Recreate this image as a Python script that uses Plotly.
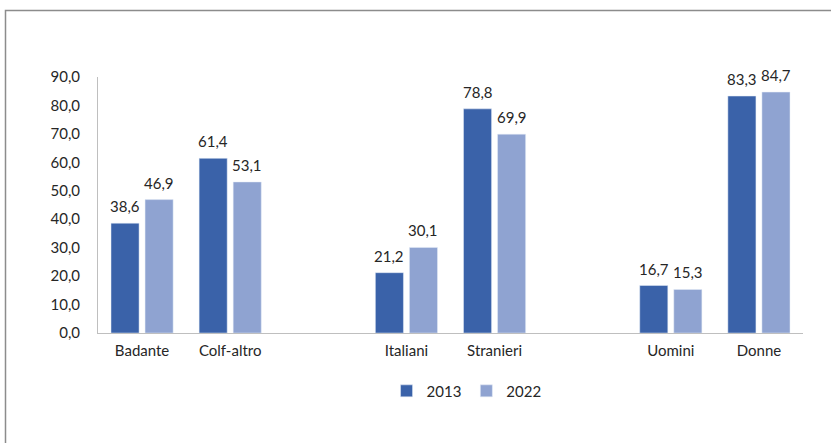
import plotly.graph_objects as go

categories = ["Badante", "Colf-altro", " ", "Italiani", "Stranieri", "  ", "Uomini", "Donne"]
values_2013 = [38.6, 61.4, None, 21.2, 78.8, None, 16.7, 83.3]
values_2022 = [46.9, 53.1, None, 30.1, 69.9, None, 15.3, 84.7]
series_names = ["2013", "2022"]
colors = ["#3A62A9", "#8FA3D1"]
y_ticks = [0, 10, 20, 30, 40, 50, 60, 70, 80, 90]

FONT = "Lato, Open Sans, sans-serif"
TXT = "#262626"
FS = 15

fig = go.Figure()
annotations = []
for i, (name, vals, col) in enumerate(zip(series_names, [values_2013, values_2022], colors)):
    fig.add_trace(go.Bar(x=categories, y=vals, name=name, marker_color=col))
    for c, v in zip(categories, vals):
        if v is None:
            continue
        annotations.append(dict(
            x=c, y=v, xref="x", yref="y", text=f"{v:.1f}".replace(".", ","),
            showarrow=False, xshift=(-17 if i == 0 else 17), yshift=17,
            yanchor="middle", xanchor="center",
            font=dict(family=FONT, size=FS, color=TXT)))

L, R, T, B = 98, 28, 77, 110
W, H = 831, 443
pw, ph = W - L - R, H - T - B

fig.update_layout(
    width=W, height=H,
    margin=dict(l=L, r=R, t=T, b=B, autoexpand=False),
    paper_bgcolor="white", plot_bgcolor="white",
    separators=",.",
    barmode="group", bargap=0.227, bargroupgap=0.176,
    font=dict(family=FONT, size=FS, color=TXT),
    showlegend=True,
    legend=dict(orientation="h", x=0.527 - 3 / pw, xanchor="center", y=-0.227, yanchor="middle",
                font=dict(family=FONT, size=FS, color=TXT), itemwidth=30,
                traceorder="normal"),
    xaxis=dict(type="category", range=[-0.5, 7.5], showline=True, linecolor="#BFBFBF", linewidth=1,
               ticks="", tickfont=dict(family=FONT, size=FS, color=TXT), showgrid=False,
               ticklabelstandoff=4),
    yaxis=dict(range=[0, 90], tickvals=y_ticks, tickformat=".1f", showline=True,
               linecolor="#BFBFBF", linewidth=1, showgrid=False, zeroline=False,
               ticks="", ticklabelstandoff=14,
               tickfont=dict(family=FONT, size=FS, color=TXT)),
    annotations=annotations,
    shapes=[dict(type="rect", xref="paper", yref="paper",
                 x0=(5.5 - L) / pw, x1=1.2, y0=-0.6, y1=1 + (T - 10.5) / ph,
                 line=dict(color="#8C8C8C", width=1.5), fillcolor="rgba(0,0,0,0)", layer="below")],
)

fig.write_html("out.html", config={"displayModeBar": False},
               post_script="document.body.style.margin='0';")
